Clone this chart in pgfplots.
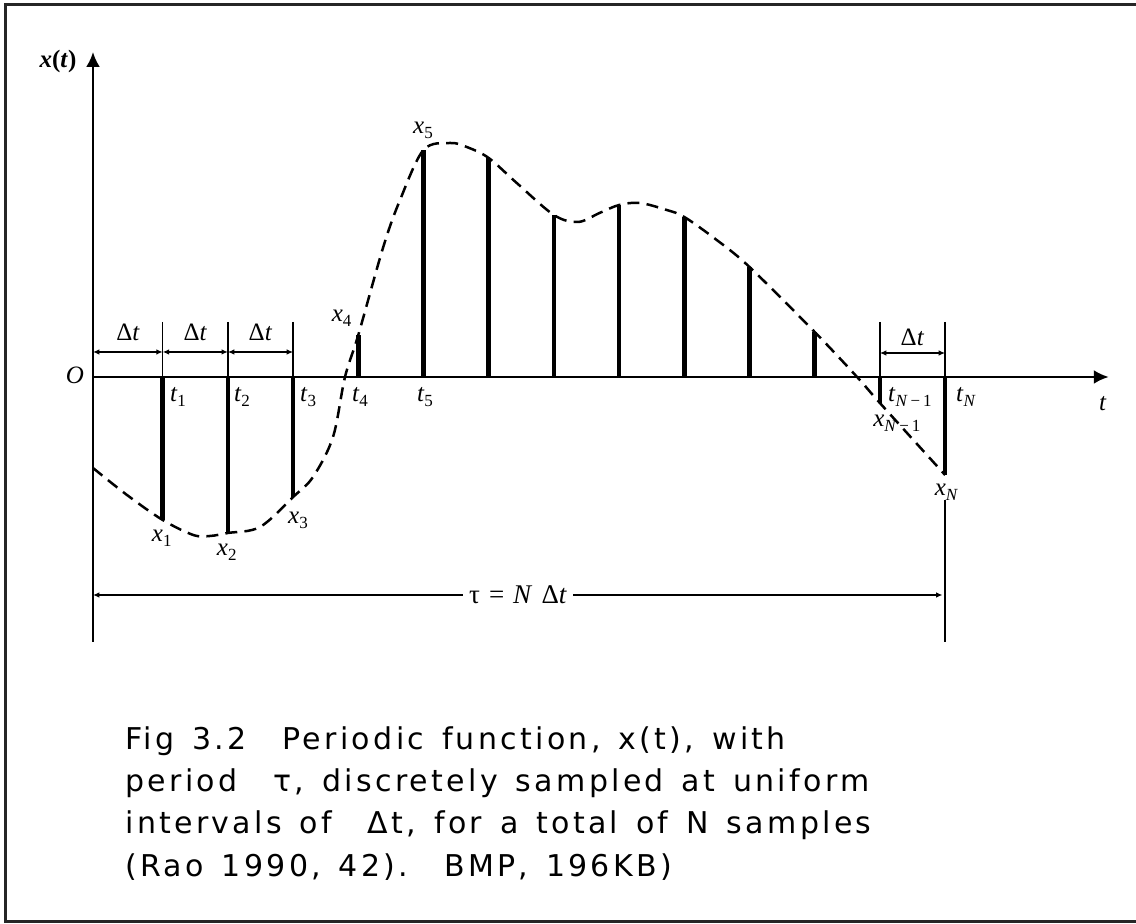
\documentclass[border=0pt]{standalone}
\usepackage{fontspec}
\setmainfont{Liberation Serif}
\newfontfamily\capfont[LetterSpace=11, WordSpace=1.4]{DejaVu Sans}
\usepackage{pgfplots}
\pgfplotsset{compat=1.18}
\usetikzlibrary{arrows.meta}

% italic symbol with a small upright subscript
\newcommand{\lab}[2]{\textit{#1}\raisebox{-0.45ex}{\fontsize{8.5}{9}\selectfont #2}}

\begin{document}
\begin{tikzpicture}[
  lbl/.style={font=\fontsize{12.5}{14}\selectfont, inner sep=0pt},
  captxt/.style={font=\capfont\fontsize{15}{18}\selectfont, inner sep=0pt, anchor=base west},
  dim/.style={line width=0.7pt, {Latex[length=3.2pt,width=2.8pt]}-{Latex[length=3.2pt,width=2.8pt]}},
  ext/.style={line width=0.7pt},
  ax/.style={line width=1.2pt, -{Latex[length=7.5pt,width=7pt]}},
]
\begin{axis}[
  width=568pt, height=462pt, scale only axis,
  xmin=-1.4954, xmax=15.928, ymin=-547, ymax=377,
  hide axis, clip=false,
]
% continuous signal x(t)
\addplot[smooth, tension=0.55, line width=1.25pt, dash pattern=on 6pt off 3.6pt] coordinates {
  (-0.069,-91) (0.452,-118) (1,-143) (1.469,-158) (1.725,-159) (2,-156)
  (2.492,-150) (3,-120) (3.305,-100) (3.612,-60) (3.796,0) (4,42)
  (4.383,130) (4.64,177) (5,227) (5.406,234) (5.663,230) (6,219)
  (6.43,194) (7,162) (7.37,155) (7.70,164) (8,172) (8.32,174)
  (8.73,167) (9,160) (9.497,137) (10,110) (11,45)
  (11.65,0) (12,-26) (13,-98)
};
% discrete samples x_1 ... x_N
\addplot[ycomb, line width=2.3pt, mark=none] coordinates {
  (1,-143) (2,-156) (3,-120) (4,42) (5,227) (6,219) (7,162)
  (8,172) (9,160) (10,110) (11,45) (12,-26) (13,-98)
};

% axes
\draw[ax] (axis cs:-0.069,-265) -- (axis cs:-0.069,325);
\draw[ax] (axis cs:-0.069,0) -- (axis cs:15.51,0);

% extension lines
\foreach \k in {1,2,3,12,13} {
  \edef\tmp{\noexpand\draw[ext] (axis cs:\k,55) -- (axis cs:\k,0);}\tmp
}
\draw[ext] (axis cs:13,-123) -- (axis cs:13,-265);

% sampling-interval dimensions
\draw[dim] (axis cs:-0.069,25) -- (axis cs:1,25);
\draw[dim] (axis cs:1,25) -- (axis cs:2,25);
\draw[dim] (axis cs:2,25) -- (axis cs:3,25);
\draw[dim] (axis cs:12,24) -- (axis cs:13,24);
\node[lbl] at (axis cs:0.468,45) {Δ\textit{t}};
\node[lbl] at (axis cs:1.5,45) {Δ\textit{t}};
\node[lbl] at (axis cs:2.5,45) {Δ\textit{t}};
\node[lbl] at (axis cs:12.5,40) {Δ\textit{t}};

% period
\draw[dim] (axis cs:-0.069,-218) -- (axis cs:12.96,-218);
\node[lbl, fill=white, inner xsep=3pt, inner ysep=1pt, font=\fontsize{13.5}{15}\selectfont] at (axis cs:6.45,-218) {τ\,\,=\,\,\textit{N}\,\,Δ\textit{t}};

% axis labels
\node[lbl] at (axis cs:-0.606,315) {\textbf{\textit{x}(\textit{t})}};
\node[lbl] at (axis cs:15.42,-27) {\textit{t}};
\node[lbl] at (axis cs:-0.345,2) {\textit{O}};

% time labels
\node[lbl] at (axis cs:1.235,-20) {\lab{t}{1}};
\node[lbl] at (axis cs:2.216,-20) {\lab{t}{2}};
\node[lbl] at (axis cs:3.229,-20) {\lab{t}{3}};
\node[lbl] at (axis cs:4.026,-20) {\lab{t}{4}};
\node[lbl] at (axis cs:5.023,-20) {\lab{t}{5}};
\node[lbl] at (axis cs:12.46,-20) {\lab{t}{\textit{N}\,−\,1}};
\node[lbl] at (axis cs:13.32,-20) {\lab{t}{\textit{N}}};

% sample labels
\node[lbl] at (axis cs:0.985,-161) {\lab{x}{1}};
\node[lbl] at (axis cs:1.982,-175) {\lab{x}{2}};
\node[lbl] at (axis cs:3.075,-143) {\lab{x}{3}};
\node[lbl] at (axis cs:3.745,59) {\lab{x}{4}};
\node[lbl] at (axis cs:4.992,247) {\lab{x}{5}};
\node[lbl] at (axis cs:12.26,-46) {\lab{x}{\textit{N}\,−\,1}};
\node[lbl] at (axis cs:13.02,-115) {\lab{x}{\textit{N}}};

% caption
\node[captxt] at (axis cs:0.4218,-373) {Fig 3.2\ \ Periodic function, x(t), with};
\node[captxt] at (axis cs:0.4218,-414.7) {period\ \ τ, discretely sampled at uniform};
\node[captxt] at (axis cs:0.4218,-457) {intervals of\ \ Δt, for a total of N samples};
\node[captxt] at (axis cs:0.4218,-499.7) {(Rao 1990, 42).\ \ BMP, 196KB)};

% frame
\draw[line width=1.5pt, black!85] (axis cs:15.928,372.5) -- (axis cs:-1.4187,372.5)
  -- (axis cs:-1.4187,-544.5) -- (axis cs:15.928,-544.5);
\end{axis}
\pgfresetboundingbox
\useasboundingbox (current axis.south west) rectangle (current axis.north east);
\end{tikzpicture}
\end{document}
